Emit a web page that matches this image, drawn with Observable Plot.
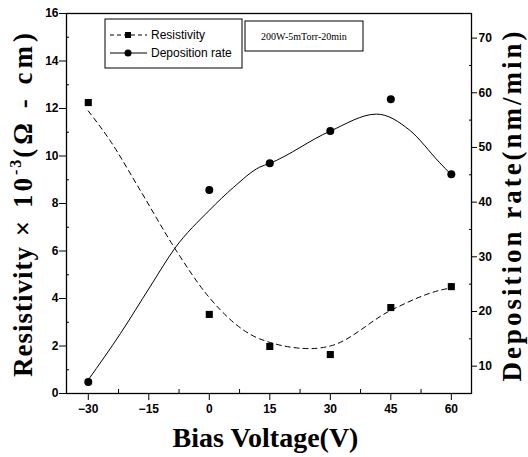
<!DOCTYPE html>
<html><head><meta charset="utf-8">
<script src="https://cdn.jsdelivr.net/npm/d3@7"></script>
<script src="https://cdn.jsdelivr.net/npm/@observablehq/plot@0.6"></script>
<style>body{margin:0;background:#fff}</style>
</head><body><div id="chart"></div>
<script>
// measured data
const biasVoltage = [-30, 0, 15, 30, 45, 60];
const resistivity = [12.25, 3.33, 1.98, 1.64, 3.62, 4.5];
const depositionRate = [7.1, 42.2, 47.1, 53.0, 58.8, 45.1];
// fitted curves
const resFitX = [-30, -24.6, -17.1, -8.5, 0, 12.5, 25, 30, 45, 57, 60];
const resFitY = [11.9, 10.65, 8.55, 6.1, 4.04, 2.3, 1.89, 2.0, 3.5, 4.34, 4.45];
const depFitX = [-30, -22, -14.7, -8.5, 0, 6, 12.5, 15, 30, 41.5, 49.6, 57, 60];
const depFitY = [7.5, 16, 24.5, 31.6, 38.5, 42.7, 46.4, 47.1, 53, 56.1, 53.2, 47.3, 45];
// ticks
const xTicks = [-30, -15, 0, 15, 30, 45, 60];
const xMinor = [-22.5, -7.5, 7.5, 22.5, 37.5, 52.5];
const yTicks = [0, 2, 4, 6, 8, 10, 12, 14, 16];
const yMinor = [1, 3, 5, 7, 9, 11, 13, 15];
const rightTicks = [10, 20, 30, 40, 50, 60, 70];
const rightMinor = [15, 25, 35, 45, 55, 65];
// texts
const xTitle = "Bias Voltage(V)";
const yTitleParts = ["Resistivity", " × 10", "-3", "(Ω - cm)"];
const y2Title = "Deposition rate(nm/min)";
const seriesNames = ["Resistivity", "Deposition rate"];
const conditionText = "200W-5mTorr-20min";

const R0 = 5, R1 = 74.5;
const toLeft = v => (v - R0) / (R1 - R0) * 16;
const fromLeft = y => y / 16 * (R1 - R0) + R0;

const pts = biasVoltage.map((x, i) => ({x, res: resistivity[i], dep: depositionRate[i]}));
const resFit = resFitX.map((x, i) => ({x, y: resFitY[i]}));
const depFit = depFitX.map((x, i) => ({x, y: depFitY[i]}));

const tickFont = "'Liberation Sans Narrow','Arial Narrow','Liberation Sans',sans-serif";
const serif = "'Liberation Serif','Times New Roman',serif";

function decorations(index, scales, values, dim) {
  const g = d3.create("svg:g").attr("text-anchor", "start");
  const L = dim.marginLeft, T = dim.marginTop;
  const fw = dim.width - dim.marginLeft - dim.marginRight;
  const fh = dim.height - dim.marginTop - dim.marginBottom;
  // series legend
  const bx = L + 39, by = T + 6;
  g.append("rect").attr("x", bx).attr("y", by).attr("width", 137).attr("height", 49)
    .attr("fill", "#fff").attr("stroke", "#000").attr("stroke-width", 1);
  const rows = [by + 16, by + 34];
  g.append("line").attr("x1", bx + 5).attr("x2", bx + 42).attr("y1", rows[0]).attr("y2", rows[0])
    .attr("stroke", "#000").attr("stroke-dasharray", "4,3");
  g.append("rect").attr("x", bx + 20).attr("y", rows[0] - 3).attr("width", 6).attr("height", 6).attr("fill", "#000");
  g.append("line").attr("x1", bx + 5).attr("x2", bx + 42).attr("y1", rows[1]).attr("y2", rows[1])
    .attr("stroke", "#000");
  g.append("circle").attr("cx", bx + 23).attr("cy", rows[1]).attr("r", 3.5).attr("fill", "#000");
  seriesNames.forEach((s, i) => {
    g.append("text").attr("x", bx + 46).attr("y", rows[i]).attr("dy", "0.35em")
      .attr("font-family", "'Liberation Sans',Arial,sans-serif").attr("font-size", 12)
      .attr("font-weight", "normal").text(s);
  });
  // condition box
  const cx = L + 179, cy = T + 8;
  g.append("rect").attr("x", cx).attr("y", cy).attr("width", 118).attr("height", 30)
    .attr("fill", "#fff").attr("stroke", "#000");
  g.append("text").attr("x", cx + 59).attr("y", cy + 15).attr("dy", "0.35em").attr("text-anchor", "middle")
    .attr("font-family", serif).attr("font-size", 10).attr("font-weight", "normal").text(conditionText);
  // left title
  const lt = g.append("text").attr("transform", `translate(${L - 34},${T + fh / 2}) rotate(-90)`)
    .attr("text-anchor", "middle").attr("font-family", serif).attr("font-size", 27).attr("font-weight", "bold");
  lt.append("tspan").attr("letter-spacing", 1).text(yTitleParts[0]);
  lt.append("tspan").attr("letter-spacing", 3).text(yTitleParts[1]);
  lt.append("tspan").attr("font-size", 16).attr("dy", -11).attr("letter-spacing", 2).text(yTitleParts[2]);
  lt.append("tspan").attr("dy", 11).attr("letter-spacing", 4).text(yTitleParts[3]);
  // right title
  g.append("text").attr("transform", `translate(${L + fw + 50},${T + fh / 2 + 2}) rotate(-90)`)
    .attr("text-anchor", "middle").attr("font-family", serif).attr("font-size", 27).attr("font-weight", "bold")
    .attr("letter-spacing", 3).text(y2Title);
  // bottom title
  g.append("text").attr("x", L + fw / 2 - 3).attr("y", T + fh + 54)
    .attr("text-anchor", "middle").attr("font-family", serif).attr("font-size", 28).attr("font-weight", "bold")
    .text(xTitle);
  return g.node();
}

const chart = Plot.plot({
  width: 528, height: 457,
  marginTop: 13, marginBottom: 64, marginLeft: 66, marginRight: 57,
  x: {domain: [-35.4, 65]},
  y: {domain: [0, 16]},
  style: {fontFamily: tickFont, fontSize: "12px", fontWeight: "bold", color: "#000", background: "#fff"},
  marks: [
    Plot.axisX(xTicks, {tickSize: 7, tickPadding: 4, label: null}),
    Plot.axisX(xMinor, {tickSize: -4, tickFormat: () => "", label: null}),
    Plot.axisY(yTicks, {tickSize: 7, tickPadding: 1, label: null}),
    Plot.axisY(yMinor, {tickSize: -3, tickFormat: () => "", label: null}),
    Plot.axisY(rightTicks.map(toLeft), {anchor: "right", tickSize: 5, tickPadding: 2, tickFormat: d => Math.round(fromLeft(d)), label: null}),
    Plot.axisY(rightMinor.map(toLeft), {anchor: "right", tickSize: -3, tickFormat: () => "", label: null}),
    Plot.frame({stroke: "#000", strokeWidth: 1.3}),
    Plot.line(resFit, {x: "x", y: "y", curve: "monotone-x", stroke: "#000", strokeWidth: 1, strokeDasharray: "5,4"}),
    Plot.line(depFit, {x: "x", y: d => toLeft(d.y), curve: "monotone-x", stroke: "#000", strokeWidth: 1}),
    Plot.dot(pts, {x: "x", y: "res", symbol: "square", r: 4, fill: "#000"}),
    Plot.dot(pts, {x: "x", y: d => toLeft(d.dep), symbol: "circle", r: 4, fill: "#000"}),
    decorations
  ]
});
document.getElementById("chart").append(chart);
</script>
</body></html>
